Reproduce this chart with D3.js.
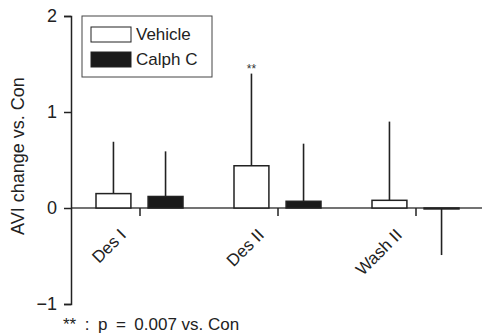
<!DOCTYPE html>
<html>
<head>
<meta charset="utf-8">
<script src="https://cdn.jsdelivr.net/npm/d3@7"></script>
<style>
  body { margin: 0; background: #fff; }
  svg { font-family: "Liberation Sans", Arial, sans-serif; }
</style>
</head>
<body>
<svg id="chart" width="482" height="335"></svg>
<script>
var groups = ["Des I", "Des II", "Wash II"];
var seriesNames = ["Vehicle", "Calph C"];
var vehicleMeans = [0.15, 0.44, 0.08];
var vehicleErr = [0.69, 1.40, 0.90];
var calphMeans = [0.12, 0.07, -0.01];
var calphErr = [0.59, 0.67, -0.49];
var yTicks = [-1, 0, 1, 2];
var sigLabels = ["", "**", ""];

var fills = { "Vehicle": "#fff", "Calph C": "#1a1a1a" };
var ink = "#222";

var svg = d3.select("#chart");

var y = d3.scaleLinear().domain([-1, 2]).range([304, 16]);
var x = d3.scaleBand().domain(groups).range([71, 485]).padding(0);
var inner = d3.scaleBand().domain(seriesNames).range([25, 112]).paddingInner(0.33);

var rows = [];
groups.forEach(function (g, i) {
  rows.push({ g: g, s: "Vehicle", v: vehicleMeans[i], e: vehicleErr[i], sig: sigLabels[i] });
  rows.push({ g: g, s: "Calph C", v: calphMeans[i], e: calphErr[i], sig: "" });
});

// zero line across the plot
svg.append("line")
  .attr("x1", 71).attr("x2", 482)
  .attr("y1", y(0)).attr("y2", y(0))
  .attr("stroke", "#444").attr("stroke-width", 1.5);

// group ticks below zero
svg.selectAll(".gtick").data(groups).enter().append("line")
  .attr("x1", function (d) { return x(d) + x.bandwidth() / 2; })
  .attr("x2", function (d) { return x(d) + x.bandwidth() / 2; })
  .attr("y1", y(0)).attr("y2", y(0) + 8)
  .attr("stroke", ink).attr("stroke-width", 1.5);

// error bars
svg.selectAll(".err").data(rows).enter().append("line")
  .attr("x1", function (d) { return x(d.g) + inner(d.s) + inner.bandwidth() / 2; })
  .attr("x2", function (d) { return x(d.g) + inner(d.s) + inner.bandwidth() / 2; })
  .attr("y1", function (d) { return y(d.v); })
  .attr("y2", function (d) { return y(d.e); })
  .attr("stroke", ink).attr("stroke-width", 1.6);

// bars
svg.selectAll(".bar").data(rows).enter().append("rect")
  .attr("x", function (d) { return x(d.g) + inner(d.s); })
  .attr("width", inner.bandwidth())
  .attr("y", function (d) { return y(Math.max(0, d.v)); })
  .attr("height", function (d) { return Math.max(Math.abs(y(d.v) - y(0)), 0.5); })
  .attr("fill", function (d) { return fills[d.s]; })
  .attr("stroke", ink).attr("stroke-width", 1.5);

// significance
svg.selectAll(".sig").data(rows.filter(function (d) { return d.sig; })).enter().append("text")
  .attr("x", function (d) { return x(d.g) + inner(d.s) + inner.bandwidth() / 2; })
  .attr("y", function (d) { return y(d.e) - 1; })
  .attr("text-anchor", "middle")
  .attr("font-size", 12)
  .attr("fill", "#333")
  .text(function (d) { return d.sig; });

// y axis
var yAxis = d3.axisLeft(y).tickValues(yTicks).tickSize(7).tickPadding(7)
  .tickFormat(function (d) { return d < 0 ? "\u2212" + Math.abs(d) : d; });
var ya = svg.append("g").attr("transform", "translate(71,0)").call(yAxis);
ya.select(".domain").attr("stroke", ink).attr("stroke-width", 1.5);
ya.selectAll(".tick line").attr("stroke", ink).attr("stroke-width", 1.5);
ya.selectAll(".tick text").attr("font-size", 18).attr("fill", "#222")
  .attr("font-family", "Liberation Sans, Arial, sans-serif");

svg.append("text")
  .attr("transform", "translate(24,156) rotate(-90)")
  .attr("text-anchor", "middle")
  .attr("font-size", 18)
  .attr("fill", "#222")
  .text("AVI change vs. Con");

// category labels
svg.selectAll(".glabel").data(groups).enter().append("text")
  .attr("transform", function (d) {
    return "translate(" + (x(d) + x.bandwidth() / 2 - 13) + "," + (y(0) + 28) + ") rotate(-45)";
  })
  .attr("text-anchor", "end")
  .attr("font-size", 17)
  .attr("fill", "#222")
  .text(function (d) { return d; });

// legend
var lg = svg.append("g");
lg.append("rect").attr("x", 82).attr("y", 16).attr("width", 130).attr("height", 61)
  .attr("fill", "#fff").attr("stroke", "#444").attr("stroke-width", 1);
seriesNames.forEach(function (s, i) {
  lg.append("rect").attr("x", 91).attr("y", 27 + i * 25).attr("width", 40).attr("height", 15)
    .attr("fill", fills[s]).attr("stroke", ink).attr("stroke-width", 1);
  lg.append("text").attr("x", 136).attr("y", 40 + i * 25)
    .attr("font-size", 17).attr("fill", "#222").text(s);
});

// footnote
svg.append("text").attr("x", 63).attr("y", 330)
  .attr("font-size", 17).attr("fill", "#222")
  .text("**\u2002:\u2002p\u2002=\u20020.007 vs. Con");
</script>
</body>
</html>
